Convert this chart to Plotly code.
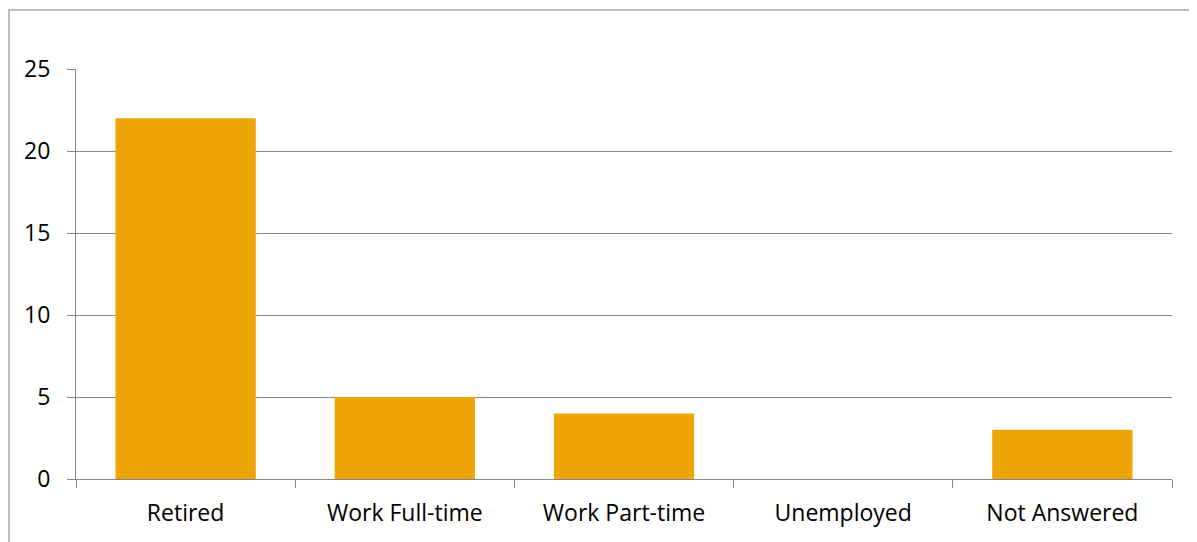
import plotly.graph_objects as go

categories = ["Retired", "Work Full-time", "Work Part-time", "Unemployed", "Not Answered"]
values = [22, 5, 4, 0, 3]
y_ticks = [0, 5, 10, 15, 20, 25]

# page has an 8px body margin; margins compensate for it
W, H = 1197, 542
L, R, T, B = 68, 33, 61, 71
pw = W - L - R
ph = H - T - B

fig = go.Figure(go.Bar(
    x=categories, y=values,
    marker=dict(color="#EEA507", line=dict(width=0)),
    width=0.64,
))

fig.update_layout(
    width=W, height=H,
    margin=dict(l=L, r=R, t=T, b=B),
    paper_bgcolor="white", plot_bgcolor="white",
    font=dict(family="Open Sans, Noto Sans, sans-serif", size=23, color="#000000"),
    showlegend=False,
    bargap=0.36,
    shapes=[dict(
        type="rect", xref="paper", yref="paper",
        x0=(1 - L) / pw, x1=(1220 - L) / pw,
        y0=-(B + 30) / ph, y1=1 + (T - 2) / ph,
        line=dict(color="#A6A6A6", width=1.5),
        fillcolor="rgba(0,0,0,0)", layer="below",
    )],
)

fig.update_xaxes(
    type="category", showline=True, linecolor="#868686", linewidth=1.2,
    ticks="outside", ticklen=8, tickcolor="#868686", tickwidth=1.2,
    tickson="boundaries", showgrid=False, ticklabelstandoff=13,
    tickfont=dict(size=23),
)
fig.update_yaxes(
    range=[0, 25], tickvals=y_ticks, showgrid=True, gridcolor="#868686", gridwidth=1.2,
    showline=True, linecolor="#868686", linewidth=1.2,
    ticks="outside", ticklen=8, tickcolor="#868686", tickwidth=1.2,
    zeroline=False, ticklabelstandoff=12, tickfont=dict(size=23),
)

fig.write_html("out.html")
